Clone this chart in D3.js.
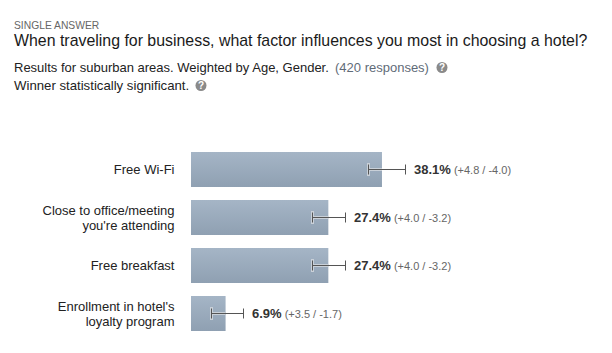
<!DOCTYPE html>
<html><head><meta charset="utf-8">
<script src="https://cdn.jsdelivr.net/npm/d3@7"></script>
<style>
html,body{margin:0;padding:0;background:#fff}
svg{display:block}
text{font-family:"Liberation Sans",Arial,sans-serif}
</style></head><body>
<svg id="c" width="612" height="353"></svg>
<script>
const categories = [["Free Wi-Fi"],["Close to office/meeting","you're attending"],["Free breakfast"],["Enrollment in hotel's","loyalty program"]];
const values = [38.1,27.4,27.4,6.9];
const plusMargins = [4.8,4.0,4.0,3.5];
const minusMargins = [4.0,3.2,3.2,1.7];
const whiskerLow = [35.4,24.2,24.2,4.0];
const whiskerHigh = [42.7,30.8,30.8,10.4];

const svg = d3.select("#c");
const x = d3.scaleLinear().domain([0,40]).range([191,391.5]);
const y = d3.scaleBand().domain(d3.range(values.length)).range([152,331]).paddingInner(13/48).paddingOuter(0).align(0);
const bh = y.bandwidth();

const grad = svg.append("defs").append("linearGradient").attr("id","g").attr("x1",0).attr("y1",0).attr("x2",0).attr("y2",1);
grad.append("stop").attr("offset",0).attr("stop-color","#a5b5c6");
grad.append("stop").attr("offset",1).attr("stop-color","#8fa0b2");

const head = [
 {t:"SINGLE ANSWER",x:14,y:29,s:10.3,c:"#666"},
 {t:"When traveling for business, what factor influences you most in choosing a hotel?",x:14,y:46,s:15.9,c:"#1a1a1a"},
 {t:"Results for suburban areas. Weighted by Age, Gender.",x:14,y:72,s:13,c:"#222"},
 {t:"(420 responses)",x:335,y:72,s:13,c:"#5f6b78"},
 {t:"Winner statistically significant.",x:14,y:90,s:13.2,c:"#222"}
];
svg.selectAll("text.h").data(head).join("text").attr("class","h")
 .attr("x",d=>d.x).attr("y",d=>d.y).attr("font-size",d=>d.s).attr("fill",d=>d.c).text(d=>d.t);

const icons=[[442,67.5],[201,85.5]];
const ig=svg.selectAll("g.i").data(icons).join("g").attr("class","i").attr("transform",d=>`translate(${d[0]},${d[1]})`);
ig.append("circle").attr("r",5.5).attr("fill","#8a8a8a");
ig.append("text").attr("text-anchor","middle").attr("y",3.5).attr("font-size",10).attr("font-weight","bold").attr("fill","#fff").text("?");

const rows = svg.selectAll("g.r").data(values).join("g").attr("class","r");
rows.append("rect").attr("x",x(0)).attr("y",(d,i)=>y(i)).attr("width",d=>x(d)-x(0)).attr("height",bh).attr("fill","url(#g)");

const cy=i=>Math.floor(y(i)+bh/2)+0.5;
const lowX=i=>Math.round(x(whiskerLow[i]));
const highX=i=>Math.round(x(whiskerHigh[i]));
rows.append("line").attr("x1",(d,i)=>lowX(i)).attr("x2",(d,i)=>x(d)).attr("y1",(d,i)=>cy(i)).attr("y2",(d,i)=>cy(i)).attr("stroke","#c9d0d8").attr("stroke-width",3);
rows.append("rect").attr("x",(d,i)=>lowX(i)-1).attr("y",(d,i)=>cy(i)-6.5).attr("width",3).attr("height",13).attr("fill","#c9d0d8");
rows.append("line").attr("x1",(d,i)=>lowX(i)).attr("x2",(d,i)=>highX(i)).attr("y1",(d,i)=>cy(i)).attr("y2",(d,i)=>cy(i)).attr("stroke","#555");
rows.append("line").attr("x1",(d,i)=>lowX(i)+.5).attr("x2",(d,i)=>lowX(i)+.5).attr("y1",(d,i)=>cy(i)-5).attr("y2",(d,i)=>cy(i)+5).attr("stroke","#555");
rows.append("line").attr("x1",(d,i)=>highX(i)+.5).attr("x2",(d,i)=>highX(i)+.5).attr("y1",(d,i)=>cy(i)-5).attr("y2",(d,i)=>cy(i)+5).attr("stroke","#555");

const lab=rows.append("text").attr("x",(d,i)=>highX(i)+9).attr("y",(d,i)=>cy(i)+4.5);
lab.append("tspan").attr("font-size",13).attr("font-weight","bold").attr("fill","#333").text(d=>d3.format(".1f")(d)+"%");
lab.append("tspan").attr("font-size",11).attr("fill","#666").attr("dx",3).text((d,i)=>`(+${plusMargins[i].toFixed(1)} / -${minusMargins[i].toFixed(1)})`);

const cat=rows.append("text").attr("text-anchor","end").attr("font-size",13).attr("fill","#222");
cat.selectAll("tspan").data((d,i)=>categories[i].map((t,k)=>({t,k,i}))).join("tspan")
 .attr("x",174.5).attr("y",d=>cy(d.i)+4.5+(d.k-(categories[d.i].length-1)/2)*15).text(d=>d.t);
</script></body></html>
